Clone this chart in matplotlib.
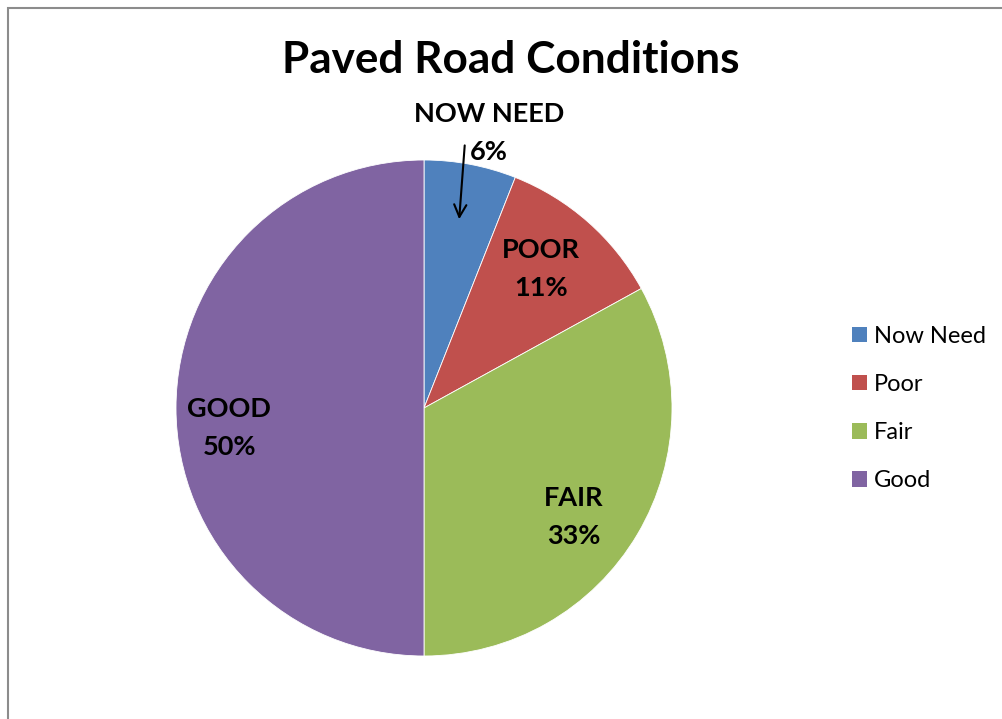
import matplotlib
matplotlib.use("Agg")
import matplotlib.pyplot as plt
from matplotlib.patches import Rectangle, Patch

# données de l'état des routes revêtues (en %)
categories = ["Now Need", "Poor", "Fair", "Good"]
valeurs = [6, 11, 33, 50]
etiquettes = ["NOW NEED", "POOR", "FAIR", "GOOD"]
couleurs = ["#4F81BD", "#C0504D", "#9BBB59", "#8064A2"]

plt.rcParams["font.family"] = ["Lato", "DejaVu Sans"]

fig = plt.figure(figsize=(10.02, 7.19), dpi=100)

# cadre gris autour du graphique
fig.patches.append(Rectangle((8 / 1002, -0.01), 1.1, 1 - 8 / 719 + 0.01,
                             transform=fig.transFigure, fill=False,
                             edgecolor="#8c8c8c", linewidth=1.5))

ax = fig.add_axes([176 / 1002, 63 / 719, 496 / 1002, 496 / 719])
parts, _ = ax.pie(valeurs, colors=couleurs, startangle=90, counterclock=False,
                  radius=1.0, wedgeprops=dict(linewidth=0.6, edgecolor="white"))
ax.set_xlim(-1, 1)
ax.set_ylim(-1, 1)
ax.set_aspect("equal")
ax.axis("off")

# positions des étiquettes (coordonnées du camembert)
pos_etiq = [(0.262, 1.11), (0.472, 0.56), (0.605, -0.44), (-0.786, -0.08)]
for nom, val, (x, y) in zip(etiquettes, valeurs, pos_etiq):
    ax.text(x, y, f"{nom}\n{val}%", ha="center", va="center", fontsize=19.5,
            fontweight="bold", linespacing=1.72)

# flèche vers la petite part
ax.annotate("", xy=(0.141, 0.75), xytext=(0.165, 1.07),
            arrowprops=dict(arrowstyle="->", color="black", lw=1.5,
                            mutation_scale=22))

fig.text(511 / 1002, 1 - 60 / 719, "Paved Road Conditions", ha="center",
         va="center", fontsize=31.8, fontweight="bold")

poignees = [Patch(facecolor=c, label=n) for c, n in zip(couleurs, categories)]
fig.legend(handles=poignees, loc="center left",
           bbox_to_anchor=(852 / 1002, 1 - 408.5 / 719), frameon=False,
           borderaxespad=0, borderpad=0,
           fontsize=17, handlelength=0.64, handleheight=0.64, handletextpad=0.3,
           labelspacing=1.15)

fig.savefig("out.png", dpi=100)
